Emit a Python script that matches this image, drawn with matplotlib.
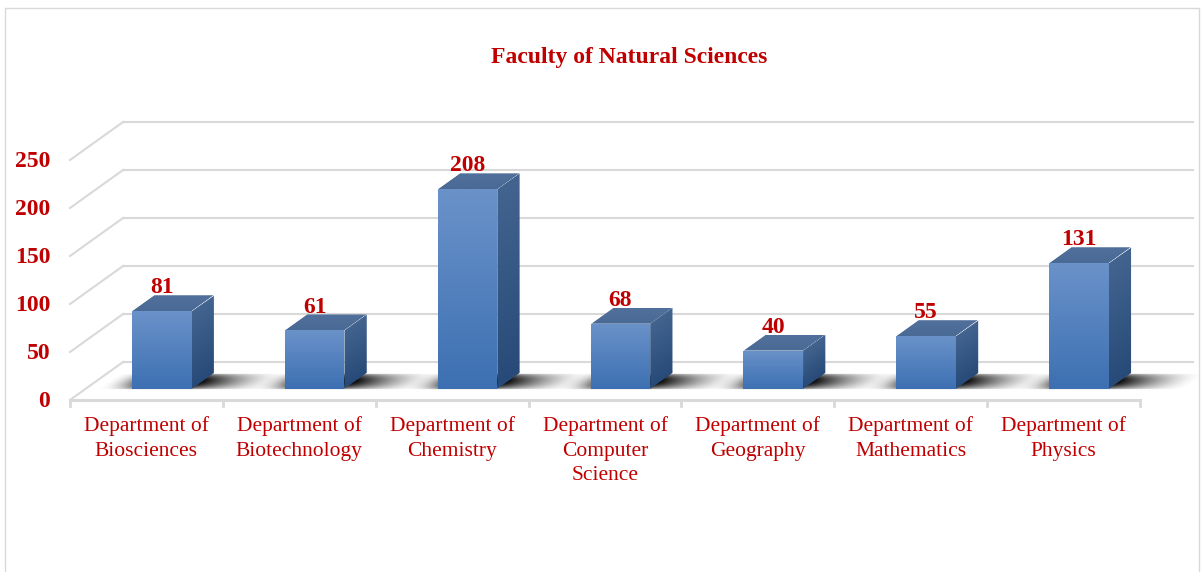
import numpy as np
import matplotlib
matplotlib.use("Agg")
import matplotlib.pyplot as plt
from matplotlib.patches import Rectangle, Polygon
from matplotlib.transforms import Affine2D

departments = ["Department of\nBiosciences", "Department of\nBiotechnology",
               "Department of\nChemistry", "Department of\nComputer\nScience",
               "Department of\nGeography", "Department of\nMathematics",
               "Department of\nPhysics"]
counts = [81, 61, 208, 68, 40, 55, 131]
yticks = [0, 50, 100, 150, 200, 250]

RED = "#c00000"
GRID = "#d9d9d9"
SERIF = "Liberation Serif"

# oblique depth of the back wall, in (category, value) units
DX, DY = 0.347, 39.6
D0, D1 = 0.29, 0.71      # front / back depth of the bars
BAR_W = 0.39


def grad(c_bot, c_top, n=64):
    a = np.array(matplotlib.colors.to_rgba(c_bot))
    b = np.array(matplotlib.colors.to_rgba(c_top))
    t = np.linspace(0, 1, n)[:, None]
    img = a + (b - a) * t
    return img[:, None, :]


def face(img, extent, mtx, z):
    tr = Affine2D(np.array(mtx)) + ax.transData
    x0, x1, y0, y1 = extent
    clip = Polygon([(x0, y0), (x1, y0), (x1, y1), (x0, y1)], closed=True,
                   transform=tr, facecolor="none", edgecolor="none")
    ax.add_patch(clip)
    im = ax.imshow(img, extent=extent, origin="lower", aspect="auto",
                   interpolation="bilinear", zorder=z)
    im.set_transform(tr)
    im.set_clip_path(clip)
    return im


fig = plt.figure(figsize=(12.01, 5.72), dpi=100)
ax = fig.add_axes([0, 0, 1, 1])
ax.axis("off")
n = len(counts)

# back wall gridlines and the left wall diagonals
for v in yticks:
    ax.plot([DX, n + DX], [v + DY, v + DY], color=GRID, lw=1.5, zorder=1)
    ax.plot([0, DX], [v, v + DY], color=GRID, lw=1.5, zorder=1)

# front category axis with tick marks
ax.plot([0, n], [0, 0], color=GRID, lw=2.2, zorder=2)
for i in range(n + 1):
    ax.plot([i, i], [0, -6], color=GRID, lw=2, zorder=2)

for i, h in enumerate(counts):
    xl = i + 0.5 - BAR_W / 2
    xr = xl + BAR_W

    # soft shadow on the floor
    xs = np.linspace(-0.25, BAR_W + 0.5, 200)
    a = np.zeros_like(xs)
    left = xs < 0
    a[left] = np.clip(1 + xs[left] / 0.25, 0, 1) ** 2 * 0.8
    a[~left] = np.clip(1 - (xs[~left] - BAR_W) / 0.5, 0, 1) ** 1.5 * 0.95
    ds = np.linspace(0, 1, 20)
    g = np.sin(np.pi * ds) ** 0.5
    sh = np.zeros((20, 200, 4))
    sh[..., 3] = g[:, None] * a[None, :]
    face(sh, (xl - 0.25, xr + 0.5, D0 - 0.02, D1), [[1, DX, 0], [0, DY, 0], [0, 0, 1]], 3)

    # front face
    face(grad("#3d70b2", "#6a92c9"), (xl, xr, 0, h),
         [[1, 0, D0 * DX], [0, 1, D0 * DY], [0, 0, 1]], 5)
    # right side face
    face(grad("#274a78", "#43648f"), (D0, D1, 0, h),
         [[DX, 0, xr], [DY, 1, 0], [0, 0, 1]], 5)
    # top face
    face(grad("#4a6a96", "#51709b"), (xl, xr, D0, D1),
         [[1, DX, 0], [0, DY, h], [0, 0, 1]], 5)

    ax.text(i + 0.5 + D0 * DX, h + D1 * DY + 2, str(h), ha="center", va="baseline",
            fontsize=17, fontweight="bold", color=RED, family=SERIF, zorder=6)

for v in yticks:
    ax.text(-0.13, v - 2, str(v), ha="right", va="center", fontsize=17,
            fontweight="bold", color=RED, family=SERIF)

for i, lab in enumerate(departments):
    ax.text(i + 0.5, -17, lab, ha="center", va="top", fontsize=15.5,
            color=RED, family=SERIF, linespacing=1.4)

ax.set_xlim(-70 / 152.86, (1201 - 70) / 152.86)
ax.set_ylim(-172 / 0.96, 400 / 0.96)

fig.text(0.524, 1 - 58 / 572, "Faculty of Natural Sciences", ha="center", va="center",
         fontsize=17, fontweight="bold", color=RED, family=SERIF)
fig.add_artist(Rectangle((5 / 1201, -0.1), 1194 / 1201, 1.1 - 8 / 572,
                         transform=fig.transFigure, fill=False, edgecolor=GRID, lw=1))

fig.savefig("out.png", dpi=100)
